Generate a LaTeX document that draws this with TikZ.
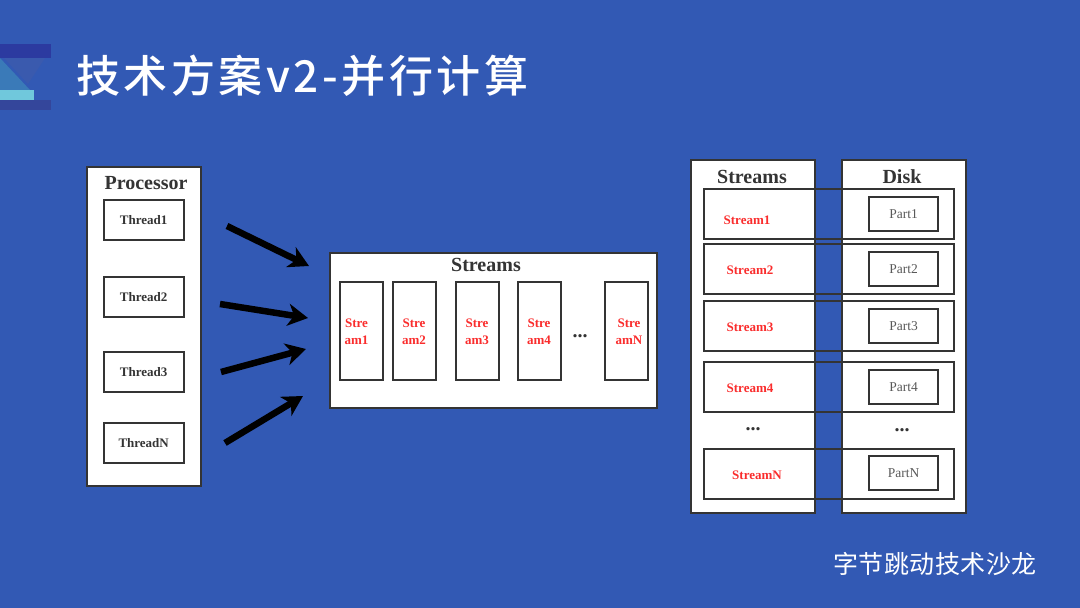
\documentclass[tikz,border=0pt]{standalone}
\usepackage{fontspec}
\usepackage{xcolor}
\usetikzlibrary{arrows.meta}
\setmainfont{Liberation Serif}
\newfontfamily\cjk[LetterSpace=8]{Noto Sans CJK SC Medium}
\newfontfamily\cjkfoot[LetterSpace=2]{Noto Sans CJK SC}
\definecolor{bgColor}{RGB}{50,89,180}
\definecolor{lineColor}{RGB}{52,52,52}
\definecolor{streamRed}{RGB}{250,45,45}
\definecolor{logoDark}{RGB}{44,58,160}
\definecolor{logoLow}{RGB}{52,70,155}
\definecolor{logoMid}{RGB}{58,122,184}
\definecolor{logoSoft}{RGB}{58,90,174}
\definecolor{logoCyan}{RGB}{112,200,220}
\newcommand{\headfont}{\fontsize{20}{22}\selectfont\bfseries}
\newcommand{\cellfont}{\fontsize{13}{17}\selectfont\bfseries}
\newcommand{\partfont}{\fontsize{13.5}{15}\selectfont}

\begin{document}
\begin{tikzpicture}[
        x=1pt, y=-1pt,
        nudge/.style={xshift=.7pt, yshift=-.7pt},
        panel/.style={draw=lineColor, fill=white, line width=1.8pt, anchor=north west, inner sep=0pt, outer sep=0pt, nudge},
        cell/.style={draw=lineColor, fill=white, line width=1.8pt, anchor=north west, inner sep=0pt, outer sep=0pt, align=center, nudge},
        rowbox/.style={draw=lineColor, line width=1.8pt, anchor=north west, inner sep=0pt, outer sep=0pt, minimum width=250pt, minimum height=50pt, nudge},
        head/.style={text=lineColor, font=\headfont},
        thread/.style={cell, minimum width=80pt, minimum height=40pt, text=lineColor, font=\cellfont},
        slot/.style={cell, minimum width=43pt, minimum height=98pt},
        part/.style={cell, minimum width=69pt, minimum height=34pt, text=black!65, font=\partfont},
        red/.style={text=streamRed, font=\cellfont, align=center},
        dots/.style={text=lineColor, font=\headfont},
        arr/.style={-{Stealth[length=20pt,width=22pt,inset=6pt]}, line width=6.5pt, black}
      ]
      \useasboundingbox (0,0) rectangle (1080,608);
      \fill[bgColor] (0,0) rectangle (1080,608);

      % logo
      \fill[logoDark] (0,44) rectangle (51,58);
      \fill[logoLow] (0,100) rectangle (51,110);
      \fill[logoSoft] (4,58) -- (45,58) -- (28,84) -- cycle;
      \fill[logoMid] (0,58) -- (30,90) -- (0,90) -- cycle;
      \fill[logoCyan] (0,90) rectangle (34,100);

      \node[anchor=west, inner sep=0pt, text=white, font=\fontsize{44}{48}\selectfont\cjk] (title) at (76,76) {技术方案v2-并行计算};
      \node[anchor=west, inner sep=0pt, text=white, font=\fontsize{25}{28}\selectfont\cjkfoot] (brand) at (833,564) {字节跳动技术沙龙};

      % processor
      \node[panel, minimum width=114pt, minimum height=319pt] (processor) at (86,166) {};
      \node[head] (processorhead) at (146,183) {Processor};
      \node[thread] (thread1) at (103,199) {Thread1};
      \node[thread] (thread2) at (103,276) {Thread2};
      \node[thread] (thread3) at (103,351) {Thread3};
      \node[thread] (threadn) at (103,422) {ThreadN};

      % middle
      \node[panel, minimum width=327pt, minimum height=155pt] (streams) at (329,252) {};
      \node[head] (streamshead) at (486,265) {Streams};
      \node[slot] (slot1) at (339,281) {};
      \node[slot] (slot2) at (392,281) {};
      \node[slot] (slot3) at (455,281) {};
      \node[slot] (slot4) at (517,281) {};
      \node[slot] (slotn) at (604,281) {};
      \node[red] (slotlabel1) at (356.5,331.5) {Stre\\am1};
      \node[red] (slotlabel2) at (414,331.5) {Stre\\am2};
      \node[red] (slotlabel3) at (477,331.5) {Stre\\am3};
      \node[red] (slotlabel4) at (539,331.5) {Stre\\am4};
      \node[red] (slotlabeln) at (629,331.5) {Stre\\amN};
      \node[dots] (slotdots) at (580,336) {...};

      % arrows
      \coordinate (from1) at (227,226);
      \coordinate (to1) at (309,266);
      \coordinate (from2) at (220,304);
      \coordinate (to2) at (308,318);
      \coordinate (from3) at (221,372);
      \coordinate (to3) at (306,349);
      \coordinate (from4) at (225,443);
      \coordinate (to4) at (303,396);
      \draw[arr] (from1) -- (to1);
      \draw[arr] (from2) -- (to2);
      \draw[arr] (from3) -- (to3);
      \draw[arr] (from4) -- (to4);

      % right side
      \node[panel, minimum width=124pt, minimum height=353pt] (streamcol) at (690,159) {};
      \node[panel, minimum width=124pt, minimum height=353pt] (diskcol) at (841,159) {};
      \node[head] (streamcolhead) at (752,177) {Streams};
      \node[head] (diskhead) at (902,177) {Disk};
      \node[rowbox] (row1) at (703,188) {};
      \node[rowbox] (row2) at (703,243.5) {};
      \node[rowbox] (row3) at (703,300.5) {};
      \node[rowbox] (row4) at (703,361.5) {};
      \node[rowbox] (rown) at (703,448) {};
      \node[red] (stream1) at (747,220) {Stream1};
      \node[red] (stream2) at (750,270) {Stream2};
      \node[red] (stream3) at (750,327) {Stream3};
      \node[red] (stream4) at (750,388) {Stream4};
      \node[red] (streamn) at (757,475) {StreamN};
      \node[part] (part1) at (868.5,196) {Part1};
      \node[part] (part2) at (868.5,251.5) {Part2};
      \node[part] (part3) at (868.5,308.5) {Part3};
      \node[part] (part4) at (868.5,369.5) {Part4};
      \node[part] (partn) at (868.5,455.5) {PartN};
      \node[dots] (streamdots) at (753,429) {...};
      \node[dots] (diskdots) at (902,430) {...};
    \end{tikzpicture}
\end{document}
